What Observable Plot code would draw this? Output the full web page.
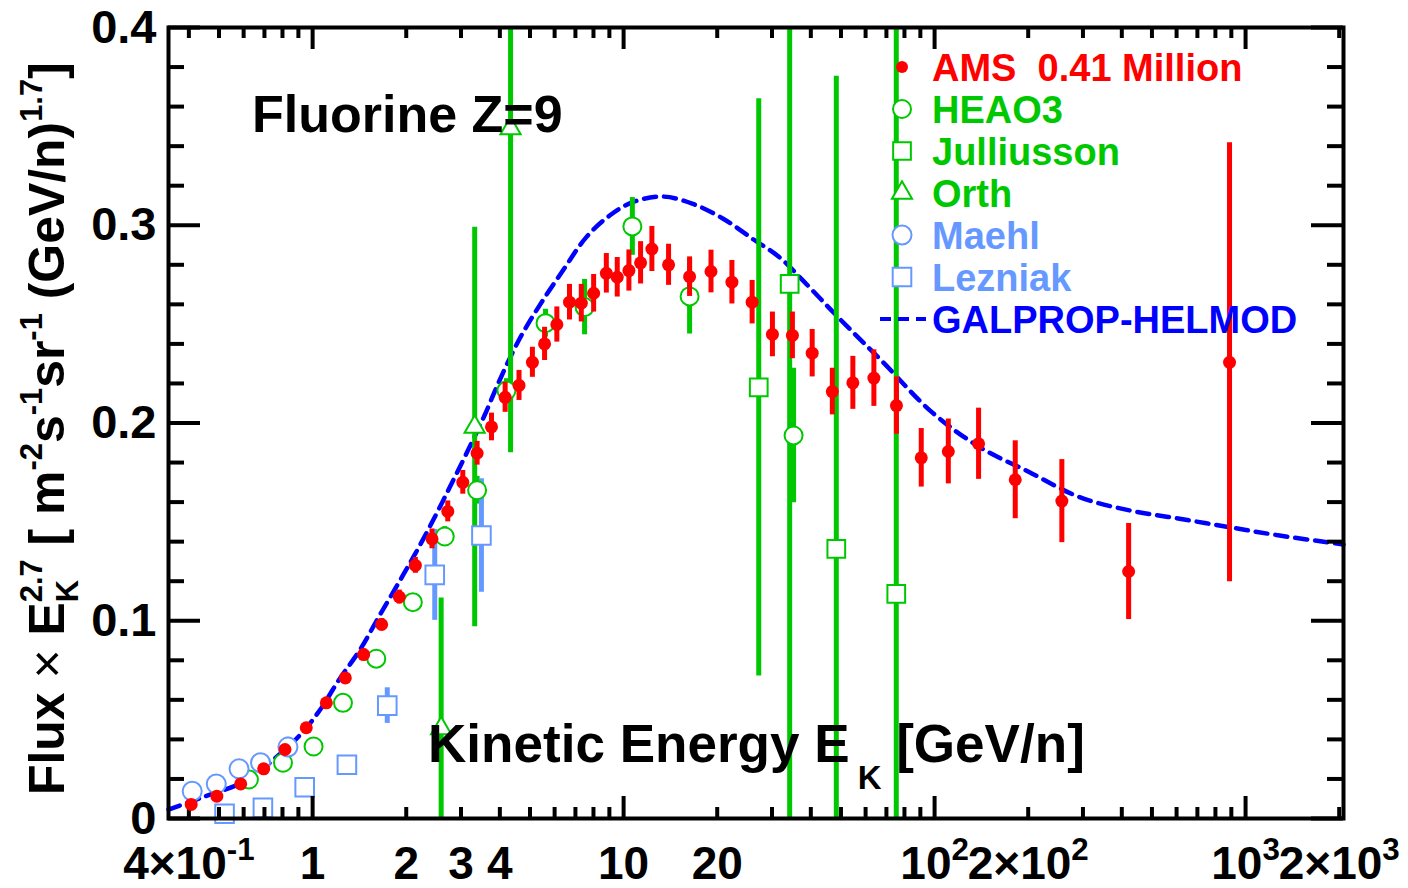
<!DOCTYPE html>
<html><head><meta charset="utf-8">
<script src="https://cdn.jsdelivr.net/npm/d3@7"></script>
<script src="https://cdn.jsdelivr.net/npm/@observablehq/plot@0.6"></script>
<style>html,body{margin:0;padding:0;background:#fff;} svg{display:block}</style>
</head><body><div id="chart"></div>
<script>
// ---------------- data ----------------
const amsE = [0.407,0.492,0.587,0.696,0.815,0.954,1.107,1.274,1.459,1.667,1.90,2.14,2.42,2.72,3.04,3.38,3.76,4.16,4.61,5.09,5.57,6.10,6.70,7.31,8.01,8.80,9.54,10.4,11.34,12.33,13.95,16.3,19.1,22.3,25.9,30.1,34.9,40.4,46.9,54.6,63.8,75.4,90.6,110.7,138.5,181.7,256.6,420.7,888];
const amsV = [0.0071,0.0113,0.0175,0.0251,0.0349,0.0459,0.0585,0.0711,0.0829,0.0981,0.112,0.128,0.1414,0.1553,0.170,0.1847,0.198,0.213,0.219,0.2307,0.240,0.2498,0.2611,0.2606,0.2656,0.2757,0.2737,0.2771,0.281,0.288,0.280,0.274,0.2766,0.2712,0.2611,0.2448,0.2443,0.2353,0.2159,0.2203,0.2227,0.2088,0.1824,0.1856,0.1895,0.1713,0.1605,0.1249,0.2307];
const amsErr = [0.001,0.001,0.0012,0.0015,0.0018,0.002,0.0022,0.0025,0.0028,0.003,0.0035,0.004,0.005,0.0053,0.006,0.006,0.007,0.0076,0.0076,0.0076,0.0084,0.0089,0.009,0.0095,0.0095,0.010,0.010,0.0104,0.0107,0.0114,0.0104,0.010,0.0108,0.011,0.011,0.0113,0.0118,0.012,0.0118,0.0134,0.0143,0.0145,0.0148,0.0164,0.018,0.0197,0.021,0.0243,0.111];

const heaoE = [0.624,0.803,1.007,1.252,1.602,2.10,2.66,3.38,4.2,5.61,7.49,10.67,16.3,35.2];
const heaoV = [0.0197,0.0282,0.0364,0.0585,0.0808,0.1094,0.1426,0.166,0.2164,0.2505,0.2586,0.2994,0.264,0.1937];
const heaoErr = [0.002,0.002,0.002,0.002,0.003,0.004,0.005,0.007,0.006,0.007,0.014,0.0146,0.019,0.034];

const julE = [27.2,34.2,48.3,75.3];
const julV = [0.218,0.2704,0.1364,0.1136];
const julErr = [0.146,0.30,0.239,0.30];

const orthE = [2.59,3.32,4.33];
const orthV = [0.0455,0.198,0.349];
const orthErr = [0.066,0.101,0.164];

const maehlE = [0.41,0.49,0.58,0.68,0.833];
const maehlV = [0.0138,0.0175,0.0251,0.0282,0.0361];
const maehlErr = [0.001,0.001,0.001,0.001,0.005];

const lezE = [0.521,0.692,0.943,1.289,1.738,2.47,3.49];
const lezV = [0.0024,0.0054,0.0158,0.0272,0.0571,0.1232,0.1431];
const lezErr = [0.001,0.001,0.001,0.001,0.009,0.023,0.0287];

const galE = [0.344,0.444,0.612,0.764,0.908,1.053,1.221,1.416,1.642,1.951,2.21,2.50,2.76,3.12,3.57,3.99,4.63,5.37,6.38,7.59,9.02,10.71,13.37,16.7,20.9,26.0,31.7,37.7,49.5,68,98,139.6,202,292.6,423.6,613.6,888,1286,2065];
const galV = [0.0045,0.0108,0.0192,0.031,0.042,0.0546,0.0706,0.085,0.1027,0.1229,0.138,0.154,0.1675,0.1844,0.2038,0.2215,0.2426,0.2595,0.2771,0.294,0.3049,0.3117,0.3145,0.3108,0.3033,0.2931,0.2838,0.2721,0.2527,0.231,0.2055,0.1878,0.1751,0.1625,0.1558,0.1516,0.1473,0.1431,0.1386];

const xMajorTicks = [1,10,100,1000];
const xMinorTicks = [0.4,0.5,0.6,0.7,0.8,0.9,2,3,4,5,6,7,8,9,20,30,40,50,60,70,80,90,200,300,400,500,600,700,800,900,2000];
const xLabelVals = [0.4,1,2,3,4,10,20,100,200,1000,2000];
const xLabelText = ["4×10^-1","1","2","3","4","10","20","10^2","2×10^2","10^3","2×10^3"];
const yMajorTicks = [0,0.1,0.2,0.3,0.4];
const yMinorTicks = [0.02,0.04,0.06,0.08,0.12,0.14,0.16,0.18,0.22,0.24,0.26,0.28,0.32,0.34,0.36,0.38];
const yLabelText = ["0","0.1","0.2","0.3","0.4"];

const legendNames = ["AMS  0.41 Million","HEAO3","Julliusson","Orth","Maehl","Lezniak","GALPROP-HELMOD"];

// ---------------- layout ----------------
const W = 1408, H = 888, ML = 168, MR = 65, MT = 27, MB = 70;
const xDomain = [0.344, 2065], yDomain = [0, 0.4];
const RED = "#ff0000", GREEN = "#00c800", LBLUE = "#6699ff", BLUE = "#0000ff";
const FONT = "'Liberation Sans', Arial, Helvetica, sans-serif";

const yPerPx = (yDomain[1]-yDomain[0])/(H-MT-MB);
const lxPerPx = Math.log10(xDomain[1]/xDomain[0])/(W-ML-MR);
const tabulate = (E,V,Er) => E.map((e,i)=>({E:e, v:V[i], lo: Math.max(yDomain[0], V[i]-(Er?Er[i]:0)), hi: Math.min(yDomain[1], V[i]+(Er?Er[i]:0))}));
const ams = tabulate(amsE, amsV, amsErr);
const heao = tabulate(heaoE, heaoV, heaoErr);
const jul = tabulate(julE, julV, julErr);
const orth = tabulate(orthE, orthV, orthErr);
const maehl = tabulate(maehlE, maehlV, maehlErr);
const lez = tabulate(lezE, lezV, lezErr);
const gal = tabulate(galE, galV, null);

const bars = (data, color, w, label) => Plot.ruleX(data, {x:"E", y1:"lo", y2:"hi", stroke: color, strokeWidth: w, ariaLabel: label});
const xl = xDomain[0], xr = xDomain[1];
const fx = px => Math.pow(10, px*lxPerPx);

const svg = Plot.plot({
  width: W, height: H,
  marginLeft: ML, marginRight: MR, marginTop: MT, marginBottom: MB,
  style: {fontFamily: FONT, background: "white", overflow: "visible"},
  x: {type: "log", domain: xDomain, axis: null},
  y: {domain: yDomain, axis: null},
  marks: [
    Plot.line(gal, {x:"E", y:"v", stroke: BLUE, strokeWidth: 4.5, strokeDasharray: "12,8", curve: "catmull-rom"}),
    bars(heao, GREEN, 5, "heao-bars"),
    bars(jul, GREEN, 5, "jul-bars"),
    bars(orth, GREEN, 5, "orth-bars"),
    bars(maehl, LBLUE, 5, "maehl-bars"),
    bars(lez, LBLUE, 5, "lez-bars"),
    Plot.dot(heao, {x:"E", y:"v", r: 9, fill: "white", stroke: GREEN, strokeWidth: 2}),
    Plot.dot(jul, {x:"E", y:"v", symbol: "square", r: 10, fill: "white", stroke: GREEN, strokeWidth: 2}),
    Plot.dot(orth, {x:"E", y:"v", symbol: "triangle", r: 7.5, fill: "white", stroke: GREEN, strokeWidth: 2}),
    Plot.dot(maehl, {x:"E", y:"v", r: 9.5, fill: "white", stroke: LBLUE, strokeWidth: 2}),
    Plot.dot(lez, {x:"E", y:"v", symbol: "square", r: 10.5, fill: "white", stroke: LBLUE, strokeWidth: 2}),
    // ticks (inward, ROOT style, mirrored)
    Plot.ruleX(xMajorTicks, {x: d=>d, y1: yDomain[0], y2: yDomain[0]+22*yPerPx, strokeWidth: 4}),
    Plot.ruleX(xMinorTicks, {x: d=>d, y1: yDomain[0], y2: yDomain[0]+11*yPerPx, strokeWidth: 4}),
    Plot.ruleX(xMajorTicks, {x: d=>d, y1: yDomain[1], y2: yDomain[1]-22*yPerPx, strokeWidth: 4}),
    Plot.ruleX(xMinorTicks, {x: d=>d, y1: yDomain[1], y2: yDomain[1]-11*yPerPx, strokeWidth: 4}),
    Plot.ruleY(yMajorTicks, {y: d=>d, x1: xl, x2: xl*fx(32), strokeWidth: 4}),
    Plot.ruleY(yMinorTicks, {y: d=>d, x1: xl, x2: xl*fx(16), strokeWidth: 4}),
    Plot.ruleY(yMajorTicks, {y: d=>d, x1: xr, x2: xr/fx(32), strokeWidth: 4}),
    Plot.ruleY(yMinorTicks, {y: d=>d, x1: xr, x2: xr/fx(16), strokeWidth: 4}),
    Plot.frame({stroke: "black", strokeWidth: 4}),
    // tick labels
    Plot.text(yMajorTicks, {x: xl, y: d=>d, text: (d,i)=>yLabelText[i], textAnchor: "end", dx: -12, fontSize: 47, fontWeight: "bold", fill: "black"}),
    Plot.text(xLabelVals, {x: d=>d, y: yDomain[0], text: (d,i)=>xLabelText[i], dy: 46, fontSize: 46, fontWeight: "bold", fill: "black"}),
    // AMS data last (on top)
    bars(ams, RED, 5, "ams-bars"),
    Plot.dot(ams, {x:"E", y:"v", r: 6.5, fill: RED, ariaLabel: "ams-dots"})
  ]
});
document.getElementById("chart").appendChild(svg);
const sel = d3.select(svg);

// superscripts in x tick labels (notation base^sup)
Array.from(svg.querySelectorAll("text")).forEach(function(el) {
  if (el.children.length) return;
  const s = el.textContent;
  if (s.indexOf("^") < 0) return;
  const [base, sup] = s.split("^");
  el.textContent = "";
  d3.select(el).append("tspan").text(base);
  d3.select(el).append("tspan").text(sup).attr("font-size", "0.68em").attr("dy", "-0.62em");
});

// rich text helper
function rich(parent, parts, fs) {
  const t = parent.append("text").attr("font-family", FONT).attr("font-weight", "bold").attr("font-size", fs)
    .attr("fill", "black").attr("text-anchor", "start");
  let cur = 0;
  const nodes = [];
  parts.forEach(p => {
    const lvl = p.l || 0;
    const off = lvl === 1 ? (p.o !== undefined ? p.o : -0.45)*fs : lvl === -1 ? (p.o !== undefined ? p.o : 0.3)*fs : 0;
    const ts = t.append("tspan").text(p.t).attr("font-size", lvl ? 0.62*fs : fs).attr("dy", off - cur);
    if (p.w) ts.attr("font-weight", p.w);
    if (p.dx) ts.attr("dx", p.dx*fs);
    cur = off;
    nodes.push(ts.node());
  });
  return {t, nodes};
}
function fitRich(parent, parts, fs0, target, build) {
  let r = rich(parent, parts, fs0); build && build(r, fs0);
  const w = r.t.node().getBBox().width;
  r.t.remove();
  const fs = fs0 * target / w;
  r = rich(parent, parts, fs); build && build(r, fs);
  return r;
}

// chart title
sel.append("text").attr("x", 252).attr("y", 132).attr("font-family", FONT).attr("font-weight", "bold")
  .attr("text-anchor", "start").attr("font-size", 52).attr("fill", "black").text("Fluorine Z=9");

// x axis title
const xt = fitRich(sel, [{t:"Kinetic Energy E"},{t:"K", l:-1, o:0.5, dx:0.15},{t:" [GeV/n]"}], 54, 657);
xt.t.attr("x", 428).attr("y", 762);

// y axis title (rotated)
const yParts = [{t:"Flux "},{t:"×", w:"normal"},{t:" E"},{t:"2.7", l:1},{t:"K", l:-1, o:0.28},{t:" [ m"},{t:"-2", l:1},{t:"s"},{t:"-1", l:1},{t:"sr"},{t:"-1", l:1},{t:" (GeV/n)"},{t:"1.7", l:1},{t:"]"}];
const stack = (r) => {
  const supN = r.nodes[3], kN = r.nodes[4], nextN = r.nodes[5];
  const ws = supN.getComputedTextLength(), wk = kN.getComputedTextLength();
  kN.setAttribute("dx", -ws);
  nextN.setAttribute("dx", Math.max(0, ws - wk));
};
const yt = fitRich(sel, yParts, 46, 733, stack);
yt.t.attr("transform", "translate(64,795) rotate(-90)");

// legend (placed beneath the AMS marks)
const lg = sel.append("g").attr("font-family", FONT).attr("font-weight", "bold").attr("text-anchor", "start");
const lx = 902, ly0 = 67, ldy = 42;
const legendColors = [RED, GREEN, GREEN, GREEN, LBLUE, LBLUE, BLUE];
legendNames.forEach((name, i) => {
  const y = ly0 + i*ldy;
  lg.append("text").attr("x", 932).attr("y", y).attr("dy", "0.36em").attr("font-size", 38)
    .attr("fill", legendColors[i]).style("white-space", "pre").text(name);
});
const sym = (type, size) => d3.symbol(type, size)();
lg.append("circle").attr("cx", lx).attr("cy", ly0).attr("r", 6).attr("fill", RED);
lg.append("circle").attr("cx", lx).attr("cy", ly0+ldy).attr("r", 9).attr("fill", "white").attr("stroke", GREEN).attr("stroke-width", 2);
lg.append("path").attr("d", sym(d3.symbolSquare, Math.PI*100)).attr("transform", `translate(${lx},${ly0+2*ldy})`).attr("fill", "white").attr("stroke", GREEN).attr("stroke-width", 2);
lg.append("path").attr("d", sym(d3.symbolTriangle, Math.PI*56)).attr("transform", `translate(${lx},${ly0+3*ldy})`).attr("fill", "white").attr("stroke", GREEN).attr("stroke-width", 2);
lg.append("circle").attr("cx", lx).attr("cy", ly0+4*ldy).attr("r", 9.5).attr("fill", "white").attr("stroke", LBLUE).attr("stroke-width", 2);
lg.append("path").attr("d", sym(d3.symbolSquare, Math.PI*110)).attr("transform", `translate(${lx},${ly0+5*ldy})`).attr("fill", "white").attr("stroke", LBLUE).attr("stroke-width", 2);
lg.append("line").attr("x1", 880).attr("x2", 926).attr("y1", ly0+6*ldy).attr("y2", ly0+6*ldy).attr("stroke", BLUE).attr("stroke-width", 4).attr("stroke-dasharray", "11,7");

// move AMS marks above the legend
["ams-bars", "ams-dots"].forEach(lbl => {
  const el = svg.querySelector(`[aria-label="${lbl}"]`);
  if (el) {
    const g = el.tagName.toLowerCase() === "g" ? el : el.parentNode;
    svg.appendChild(g);
  }
});
</script>
</body></html>
